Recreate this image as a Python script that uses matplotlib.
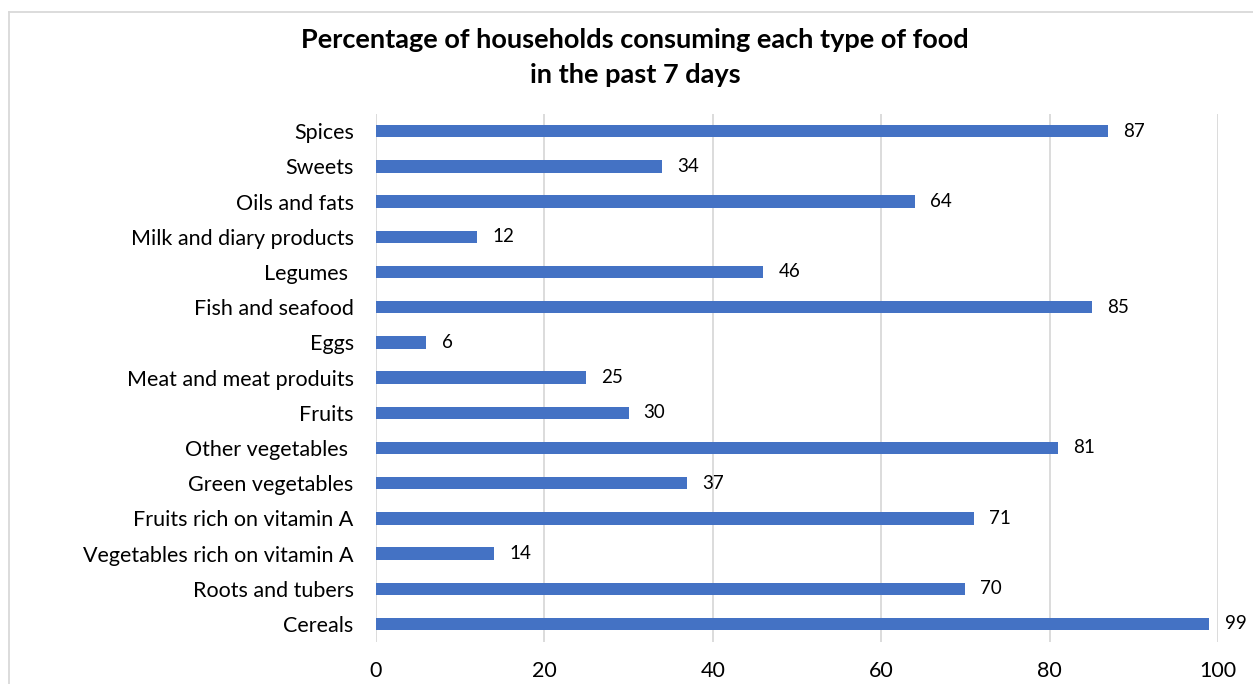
import matplotlib
matplotlib.use("Agg")
import matplotlib.pyplot as plt
from matplotlib.lines import Line2D

categories = ["Cereals", "Roots and tubers", "Vegetables rich on vitamin A",
              "Fruits rich on vitamin A", "Green vegetables", "Other vegetables ",
              "Fruits", "Meat and meat produits", "Eggs", "Fish and seafood",
              "Legumes ", "Milk and diary products", "Oils and fats", "Sweets", "Spices"]
values = [99, 70, 14, 71, 37, 81, 30, 25, 6, 85, 46, 12, 64, 34, 87]
xticks = [0, 20, 40, 60, 80, 100]

plt.rcParams['font.family'] = ['Lato', 'DejaVu Sans']

fig = plt.figure(figsize=(12.53, 6.84), dpi=100)
ax = fig.add_axes([0.300, 0.062, 0.672, 0.772])

pos = list(range(len(categories)))
ax.barh(pos, values, height=0.35, color="#4472C4", zorder=3)
for p, v in zip(pos, values):
    ax.text(v + 1.8, p, str(v), va="center", ha="left", fontsize=13.5, color="#000000")

ax.set_xlim(0, 100)
ax.set_ylim(-0.5, len(categories) - 0.5)
ax.set_yticks(pos)
ax.set_yticklabels(categories, fontsize=15.5)
ax.set_xticks(xticks)
ax.set_xticklabels([str(t) for t in xticks], fontsize=15.5)
ax.tick_params(axis="both", length=0)
ax.tick_params(axis="x", pad=14)
ax.tick_params(axis="y", pad=16)
ax.grid(axis="x", color="#D9D9D9", linewidth=1.3, zorder=0)
for s in ax.spines.values():
    s.set_visible(False)

fig.text(0.507, 0.941, "Percentage of households consuming each type of food",
         ha="center", va="center", fontsize=19.5, fontweight="bold")
fig.text(0.507, 0.891, "in the past 7 days",
         ha="center", va="center", fontsize=19.5, fontweight="bold")

# frame border (top and left visible)
fig.add_artist(Line2D([9/1253, 1.0], [1 - 12/684, 1 - 12/684], color="#D9D9D9", linewidth=1.3))
fig.add_artist(Line2D([9/1253, 9/1253], [0.0, 1 - 12/684], color="#D9D9D9", linewidth=1.3))

fig.savefig("out.png", dpi=100)
